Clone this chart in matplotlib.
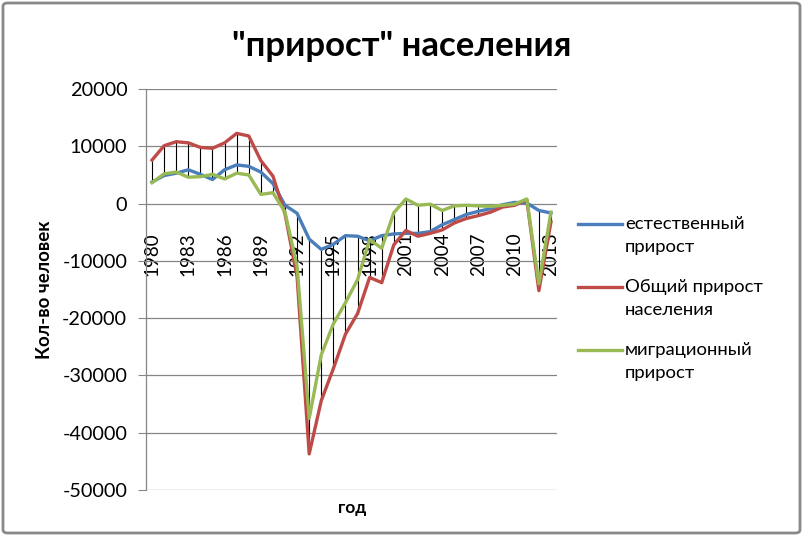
import matplotlib
matplotlib.use("Agg")
import matplotlib.pyplot as plt
from matplotlib.patches import FancyBboxPatch
from matplotlib.lines import Line2D
import numpy as np

years = list(range(1980, 2014))
natural = [3750, 4900, 5300, 5900, 5100, 4200, 5900, 6750, 6500, 5500,
           3500, -300, -1700, -6200, -8000, -7100, -5600, -5700, -6500, -5600,
           -5300, -5200, -5200, -4900, -3700, -2800, -1900, -1350, -900, -200,
           200, 100, -1200, -1650]
total = [7600, 10100, 10800, 10600, 9800, 9650, 10600, 12250, 11800, 7500,
         4800, -1800, -12800, -43700, -34400, -28800, -22800, -19200, -12900, -13800,
         -7200, -4700, -5700, -5200, -4600, -3400, -2600, -2100, -1500, -600,
         -300, 700, -15200, -3200]
migration = [3650, 5200, 5500, 4600, 4700, 5100, 4300, 5300, 5000, 1600,
             1900, -1500, -11000, -37500, -26400, -21000, -17300, -13300, -6300, -7800,
             -1600, 800, -300, -100, -1200, -400, -300, -400, -500, -300,
             -100, 800, -14000, -1500]
series_names = ["естественный\nприрост", "Общий прирост\nнаселения", "миграционный\nприрост"]
series_colors = ["#4A7EBB", "#BE4B48", "#98B954"]
title = '"прирост" населения'
ylabel = "Кол-во человек"
xlabel = "год"
yticks = [20000, 10000, 0, -10000, -20000, -30000, -40000, -50000]

FONT = ["Lato", "DejaVu Sans"]
W, H = 803, 536
fig = plt.figure(figsize=(W / 100, H / 100), dpi=100)

def fx(px):
    return px / W

def fy(py):
    return 1 - py / H

L, R, T, B = 146, 557, 89, 490
ax = fig.add_axes([fx(L), fy(B), fx(R) - fx(L), fy(T) - fy(B)])
ax.spines["bottom"].set_position(("data", 0))
ax.spines["bottom"].set_visible(False)
for s in ["top", "right"]:
    ax.spines[s].set_visible(False)
ax.spines["left"].set_color("#868686")
ax.spines["left"].set_linewidth(0.9)

x = np.arange(len(years))
data = [natural, total, migration]
arr = np.array(data)
ax.vlines(x, arr.min(axis=0), arr.max(axis=0), color="black", lw=0.8, zorder=2)
for vals, c in zip(data, series_colors):
    ax.plot(x, vals, color=c, lw=2.4, zorder=3, solid_joinstyle="round")

ax.set_xlim(-0.5, len(years) - 0.5)
ax.set_ylim(-50000, 20000)
ax.set_yticks(yticks)
ax.set_yticklabels([str(v) for v in yticks], fontfamily=FONT, fontsize=14.3)
ax.yaxis.grid(True, color="#868686", lw=0.9)
ax.set_axisbelow(True)
ax.tick_params(axis="y", length=6, color="#868686", pad=7.5)

xt = list(range(0, len(years), 3))
ax.set_xticks(xt)
ax.set_xticklabels([str(years[i]) for i in xt], rotation=90, fontfamily=FONT, fontsize=13.5)
ax.tick_params(axis="x", length=0, pad=21)

fig.text(0.5, fy(46), title, ha="center", va="center", fontfamily=FONT,
         fontsize=25, fontweight="bold")
fig.text(fx(45), fy(290), ylabel, ha="center", va="center", rotation=90,
         fontfamily=FONT, fontsize=13.5, fontweight="bold")
fig.text(fx(352), fy(508), xlabel, ha="center", va="center",
         fontfamily=FONT, fontsize=12.5, fontweight="bold")

# legend
ys = [224, 287, 350]
for name, c, y in zip(series_names, series_colors, ys):
    fig.add_artist(Line2D([fx(578), fx(622)], [fy(y), fy(y)], color=c, lw=2.4))
    l1, l2 = name.split("\n")
    fig.text(fx(625), fy(y), l1, ha="left", va="center", fontfamily=FONT, fontsize=13.3)
    fig.text(fx(625), fy(y + 23), l2, ha="left", va="center", fontfamily=FONT, fontsize=13.3)

border = FancyBboxPatch((fx(3), fy(533)), fx(797), fy(3) - fy(533),
                        boxstyle="round,pad=0,rounding_size=0.006",
                        transform=fig.transFigure, fill=False,
                        edgecolor="#898989", lw=2)
fig.add_artist(border)

fig.savefig("out.png", dpi=100)
